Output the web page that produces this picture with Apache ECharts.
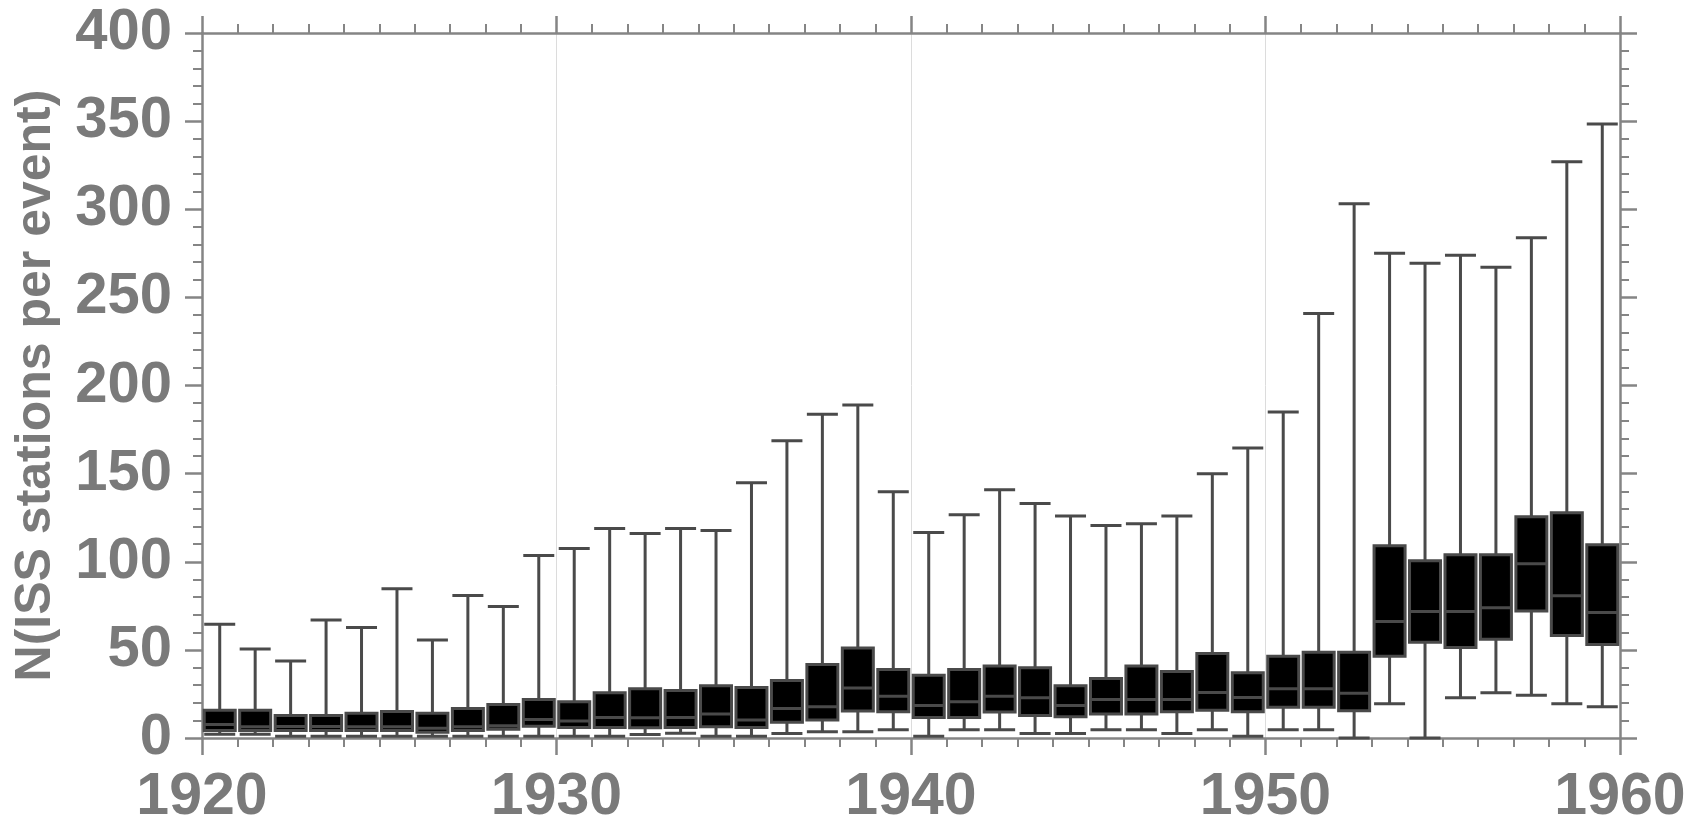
<!DOCTYPE html>
<html>
<head>
<meta charset="utf-8">
<script src="https://cdn.jsdelivr.net/npm/echarts@6/dist/echarts.min.js"></script>
<style>
html,body{margin:0;padding:0;background:#fff;}
#chart{width:1694px;height:827px;}
</style>
</head>
<body>
<div id="chart"></div>
<script>
const years = [1920,1921,1922,1923,1924,1925,1926,1927,1928,1929,
               1930,1931,1932,1933,1934,1935,1936,1937,1938,1939,
               1940,1941,1942,1943,1944,1945,1946,1947,1948,1949,
               1950,1951,1952,1953,1954,1955,1956,1957,1958,1959];
const minV = [2.1,2.1,1.0,1.0,1.0,1.0,1.0,1.0,1.0,1.0,
              1.0,1.0,2.0,2.7,1.0,1.0,2.5,3.6,3.6,4.7,
              1.0,4.7,4.7,2.5,2.5,4.7,4.7,2.5,4.7,1.0,
              4.7,4.7,0,19.4,0,22.8,25.7,24.3,19.4,17.7];
const q1V = [4.2,4.2,4.2,4.2,4.2,4.2,3.2,4.2,5.0,6.6,
             6.0,6.0,5.8,6.0,6.4,6.0,8.9,10.2,15.3,14.9,
             11.7,11.7,14.8,12.7,12.1,13.6,13.6,14.9,15.8,14.9,
             17.4,17.4,15.5,46.4,54.3,51.4,56.0,72.0,58.2,53.1];
const medV = [7.6,6.4,6.5,6.5,6.4,6.4,5.5,6.4,7.0,10.5,
              9.6,11.7,11.5,11.7,13.6,10.2,16.8,17.7,28.3,23.7,
              18.5,20.6,23.7,22.8,18.5,21.9,21.9,21.9,25.8,23.0,
              27.9,27.9,25.4,66.1,71.8,71.8,73.9,98.9,80.7,71.2];
const q3V = [15.8,15.8,12.7,12.7,14.0,15.1,14.0,16.8,19.0,21.9,
             20.6,25.7,28.0,27.0,29.6,28.7,32.6,41.7,51.1,38.8,
             35.6,38.8,40.9,39.8,29.6,33.7,40.9,37.7,47.9,37.0,
             46.4,48.6,48.6,109.1,100.6,104.0,104.0,125.5,127.8,109.7];
const maxV = [64.6,50.5,43.7,66.9,62.7,84.7,55.6,80.8,74.6,103.6,
              107.5,118.8,116.0,118.8,117.7,144.8,168.7,183.7,189.0,139.7,
              116.6,126.7,140.8,133.1,125.9,120.6,121.5,125.9,149.9,164.6,
              185.0,240.9,303.1,275.0,269.3,273.9,267.1,283.8,326.9,348.3];
const yTicks = [0,50,100,150,200,250,300,350,400];
const xTicks = [1920,1930,1940,1950,1960];
const yName = 'N(ISS stations per event)';

const boxData = years.map((y,i)=>[y+0.5, minV[i], q1V[i], medV[i], q3V[i], maxV[i]]);

const grey = '#7a7a7a';
const axisLineCol = '#858585';
const font = 'Liberation Sans, Arial, Helvetica, sans-serif';

function xAx(pos, showLabel){
  return {
    type:'value', position:pos, min:xTicks[0], max:xTicks[xTicks.length-1], interval:10,
    axisLine:{show:true, onZero:false, lineStyle:{color:axisLineCol, width:2.5}},
    axisTick:{show:true, inside:false, length:17, lineStyle:{color:axisLineCol, width:2.5}},
    minorTick:{show:true, splitNumber:10, length:9, lineStyle:{color:axisLineCol, width:2}},
    splitLine:{show:showLabel, lineStyle:{color:'#dcdcdc', width:1}},
    axisLabel:{show:showLabel, margin:30, color:grey, fontSize:59, fontWeight:'bold', fontFamily:font,
      formatter:v=>String(v)}
  };
}
function yAx(pos, showLabel){
  const o = {
    type:'value', position:pos, min:yTicks[0], max:yTicks[yTicks.length-1], interval:50,
    axisLine:{show:true, onZero:false, lineStyle:{color:axisLineCol, width:2.5}},
    axisTick:{show:true, inside:false, length:17, lineStyle:{color:axisLineCol, width:2.5}},
    minorTick:{show:true, splitNumber:5, length:9, lineStyle:{color:axisLineCol, width:2}},
    splitLine:{show:false},
    axisLabel:{show:showLabel, margin:30, color:grey, fontSize:58, fontWeight:'bold', fontFamily:font}
  };
  if(showLabel){
    o.name = yName; o.nameLocation='middle'; o.nameGap=141;
    o.nameTextStyle={color:grey, fontSize:50, fontWeight:'bold', fontFamily:font};
  }
  return o;
}

const chart = echarts.init(document.getElementById('chart'), null, {renderer:'canvas'});
chart.setOption({
  animation:false,
  backgroundColor:'#ffffff',
  grid:{left:202, right:74, top:33, bottom:86, containLabel:false},
  xAxis:[xAx('bottom', true), xAx('top', false)],
  yAxis:[yAx('left', true), yAx('right', false)],
  series:[{
    type:'boxplot',
    xAxisIndex:0, yAxisIndex:0,
    boxWidth:[31,31],
    itemStyle:{color:'#000000', borderColor:'#4a4a4a', borderWidth:3},
    emphasis:{disabled:true},
    data:boxData
  }]
});
</script>
</body>
</html>
